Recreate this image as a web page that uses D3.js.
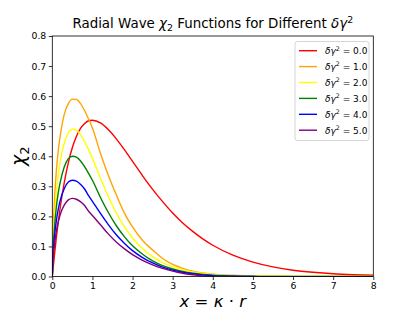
<!DOCTYPE html>
<html lang="en">
<head>
<meta charset="UTF-8">
<title>Radial Wave chi2</title>
<script src="https://cdn.jsdelivr.net/npm/d3@7"></script>
<style>
  body { margin: 0; background: #fff; }
  svg { font-family: "DejaVu Sans", sans-serif; }
</style>
</head>
<body>
<svg id="chart" width="415" height="311"></svg>
<script>
// sample positions along x = kappa * r
const xs = [0, 0.02, 0.05, 0.1, 0.15, 0.2, 0.3, 0.4, 0.5, 0.6, 0.7, 0.8, 0.9, 1.0,
  1.2, 1.4, 1.6, 1.8, 2.0, 2.25, 2.5, 2.75, 3.0, 3.25, 3.5, 3.75, 4.0, 4.5, 5, 5.5, 6, 6.5, 7, 7.5, 8];

// chi_2 values
const dg0 = [0, 0.028, 0.067, 0.128, 0.183, 0.232, 0.314, 0.379, 0.429, 0.466, 0.492, 0.508, 0.518, 0.520,
  0.511, 0.488, 0.457, 0.421, 0.383, 0.335, 0.290, 0.249, 0.211, 0.178, 0.150, 0.125, 0.104, 0.071, 0.048, 0.032, 0.021, 0.014, 0.009, 0.006, 0.004];
const dg1 = [0, 0.14, 0.24, 0.35, 0.42, 0.47, 0.54, 0.575, 0.590, 0.589, 0.576, 0.553, 0.525, 0.494,
  0.41, 0.335, 0.27, 0.21, 0.165, 0.12, 0.088, 0.06, 0.04, 0.027, 0.018, 0.012, 0.008, 0.004, 0.002, 0.001, 0.0005, 0, 0, 0, 0];
const dg2 = [0, 0.11, 0.19, 0.28, 0.34, 0.385, 0.445, 0.478, 0.490, 0.487, 0.473, 0.45, 0.423, 0.393,
  0.327, 0.265, 0.21, 0.165, 0.128, 0.092, 0.066, 0.046, 0.032, 0.022, 0.015, 0.01, 0.007, 0.003, 0.0015, 0.0007, 0.0003, 0, 0, 0, 0];
const dg3 = [0, 0.09, 0.155, 0.23, 0.28, 0.315, 0.365, 0.392, 0.400, 0.397, 0.385, 0.366, 0.344, 0.32,
  0.263, 0.212, 0.168, 0.132, 0.102, 0.074, 0.052, 0.036, 0.025, 0.017, 0.011, 0.007, 0.0045, 0.002, 0.0008, 0, 0, 0, 0, 0, 0];
const dg4 = [0, 0.075, 0.125, 0.185, 0.225, 0.255, 0.293, 0.314, 0.320, 0.317, 0.307, 0.292, 0.27, 0.25,
  0.21, 0.172, 0.138, 0.11, 0.086, 0.063, 0.045, 0.031, 0.021, 0.014, 0.009, 0.005, 0.003, 0.001, 0, -0.001, -0.001, -0.001, -0.001, -0.001, -0.001];
const dg5 = [0, 0.06, 0.10, 0.15, 0.183, 0.207, 0.238, 0.255, 0.26, 0.257, 0.249, 0.237, 0.218, 0.203,
  0.172, 0.141, 0.114, 0.092, 0.073, 0.054, 0.039, 0.027, 0.018, 0.011, 0.006, 0.002, -0.002, -0.006, -0.008, -0.009, -0.009, -0.008, -0.007, -0.006, -0.005];

const labels = ["0.0", "1.0", "2.0", "3.0", "4.0", "5.0"];
const colors = ["red", "orange", "yellow", "green", "blue", "purple"];
const seriesList = [dg0, dg1, dg2, dg3, dg4, dg5];

const xTicks = [0, 1, 2, 3, 4, 5, 6, 7, 8];
const yTicks = [0, 0.1, 0.2, 0.3, 0.4, 0.5, 0.6, 0.7, 0.8];

// layout
const plotL = 52.3, plotR = 373.3, plotT = 36, plotB = 276.5;

const svg = d3.select("#chart");

const x = d3.scaleLinear().domain([0, 8]).range([plotL, plotR]);
const y = d3.scaleLinear().domain([0, 0.8]).range([plotB, plotT]);

svg.append("defs").append("clipPath").attr("id", "plotArea")
  .append("rect")
  .attr("x", plotL).attr("y", plotT)
  .attr("width", plotR - plotL).attr("height", plotB - plotT);

// curves
const line = d3.line()
  .x((d, i) => x(xs[i]))
  .y(d => y(d))
  .curve(d3.curveMonotoneX);

const plot = svg.append("g").attr("clip-path", "url(#plotArea)");
seriesList.forEach((s, k) => {
  plot.append("path")
    .datum(s)
    .attr("d", line)
    .attr("fill", "none")
    .attr("stroke", colors[k])
    .attr("stroke-width", 1.4);
});

// axes
const xAxis = svg.append("g")
  .attr("transform", "translate(0," + plotB + ")")
  .call(d3.axisBottom(x).tickValues(xTicks).tickFormat(d3.format("d")).tickSizeOuter(0).tickSize(3.5).tickPadding(2));
const yAxis = svg.append("g")
  .attr("transform", "translate(" + plotL + ",0)")
  .call(d3.axisLeft(y).tickValues(yTicks).tickFormat(d3.format(".1f")).tickSizeOuter(0).tickSize(3.5).tickPadding(2.5));

[xAxis, yAxis].forEach(g => {
  g.select(".domain").remove();
  g.selectAll("text").attr("font-size", 9.3).attr("font-family", "DejaVu Sans").attr("fill", "#000");
  g.selectAll("line").attr("stroke", "#000").attr("stroke-width", 0.8);
});

// frame
svg.append("rect")
  .attr("x", plotL).attr("y", plotT)
  .attr("width", plotR - plotL).attr("height", plotB - plotT)
  .attr("fill", "none").attr("stroke", "#000").attr("stroke-width", 0.8);

// title
const title = svg.append("text")
  .attr("x", (plotL + plotR) / 2).attr("y", 28)
  .attr("text-anchor", "middle")
  .attr("font-size", 13.4);
title.append("tspan").text("Radial Wave ");
title.append("tspan").attr("font-style", "italic").text("χ");
title.append("tspan").attr("font-size", 9.4).attr("dy", 2.5).text("2");
title.append("tspan").attr("dy", -2.5).text(" Functions for Different ");
title.append("tspan").attr("font-style", "italic").text("δγ");
title.append("tspan").attr("font-size", 9.4).attr("dy", -5.5).text("2");

// y label
const ylab = svg.append("text")
  .attr("transform", "translate(25," + ((plotT + plotB) / 2) + ") rotate(-90)")
  .attr("text-anchor", "middle")
  .attr("font-size", 19);
ylab.append("tspan").attr("font-style", "italic").text("χ");
ylab.append("tspan").attr("font-size", 13).attr("dy", 3.5).text("2");

// x label
const xlab = svg.append("text")
  .attr("x", (plotL + plotR) / 2).attr("y", 306.5)
  .attr("text-anchor", "middle")
  .attr("font-size", 16.5);
xlab.append("tspan").attr("font-style", "italic").text("x");
xlab.append("tspan").text(" = ");
xlab.append("tspan").attr("font-style", "italic").text("κ");
xlab.append("tspan").text(" · ");
xlab.append("tspan").attr("font-style", "italic").text("r");

// legend
const lg = svg.append("g");
lg.append("rect")
  .attr("x", 295).attr("y", 41.5)
  .attr("width", 74).attr("height", 99)
  .attr("rx", 2.5)
  .attr("fill", "#fff").attr("fill-opacity", 0.8)
  .attr("stroke", "#ccc").attr("stroke-width", 0.8);

labels.forEach((lab, k) => {
  const yy = 50.7 + k * 15.9;
  lg.append("line")
    .attr("x1", 299).attr("x2", 317)
    .attr("y1", yy).attr("y2", yy)
    .attr("stroke", colors[k]).attr("stroke-width", 1.4);
  const t = lg.append("text")
    .attr("x", 325).attr("y", yy + 3.3)
    .attr("font-size", 9);
  t.append("tspan").attr("font-style", "italic").text("δγ");
  t.append("tspan").attr("font-size", 6.3).attr("dy", -3.5).text("2");
  t.append("tspan").attr("dy", 3.5).text(" = " + lab);
});
</script>
</body>
</html>
